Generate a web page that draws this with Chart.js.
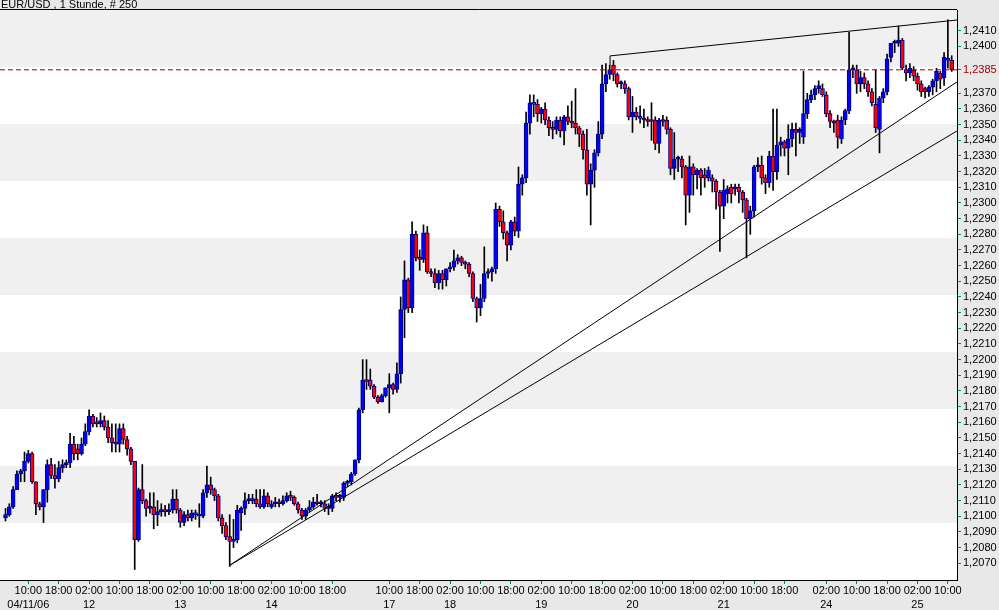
<!DOCTYPE html>
<html>
<head>
<meta charset="utf-8">
<title>EUR/USD 1 Stunde</title>
<script src="https://cdn.jsdelivr.net/npm/chart.js@4.4.1/dist/chart.umd.min.js"></script>
<style>
  html, body { margin: 0; padding: 0; background: #e8e8e8; }
  #wrap { width: 999px; height: 610px; }
  canvas { display: block; }
</style>
</head>
<body>
<div id="wrap"><canvas id="chart" width="999" height="610"></canvas></div>
<script>
// DATA (hourly candles)
const title = "EUR/USD , 1 Stunde, # 250";

const opens = [
  1.2099,1.2101,1.2106,1.2117,1.2127,1.2129,1.2135,1.2140,1.2122,1.2108,
  1.2106,1.2117,1.2133,1.2126,1.2124,1.2131,1.2133,1.2134,1.2146,1.2143,
  1.2140,1.2146,1.2154,1.2164,1.2160,1.2159,1.2161,1.2157,1.2150,1.2147,
  1.2146,1.2156,1.2149,1.2143,1.2135,1.2085,1.2117,1.2110,1.2105,1.2106,
  1.2101,1.2103,1.2104,1.2103,1.2104,1.2111,1.2104,1.2096,1.2101,1.2099,
  1.2102,1.2101,1.2100,1.2115,1.2120,1.2117,1.2113,1.2099,1.2094,1.2087,
  1.2084,1.2085,1.2102,1.2105,1.2110,1.2111,1.2111,1.2108,1.2106,1.2113,
  1.2106,1.2108,1.2109,1.2108,1.2110,1.2113,1.2112,1.2108,1.2104,1.2100,
  1.2104,1.2106,1.2109,1.2108,1.2108,1.2105,1.2105,1.2113,1.2112,1.2112,
  1.2121,1.2122,1.2127,1.2136,1.2168,1.2187,1.2187,1.2183,1.2176,1.2173,
  1.2177,1.2182,1.2184,1.2181,1.2191,1.2232,1.2251,1.2233,1.2280,1.2265,
  1.2264,1.2281,1.2256,1.2255,1.2249,1.2255,1.2251,1.2258,1.2259,1.2263,
  1.2265,1.2262,1.2261,1.2255,1.2239,1.2233,1.2239,1.2255,1.2256,1.2258,
  1.2296,1.2288,1.2281,1.2273,1.2288,1.2282,1.2312,1.2316,1.2351,1.2364,
  1.2363,1.2357,1.2360,1.2353,1.2348,1.2347,1.2353,1.2346,1.2355,1.2352,
  1.2351,1.2348,1.2344,1.2334,1.2312,1.2321,1.2332,1.2344,1.2376,1.2382,
  1.2388,1.2382,1.2376,1.2376,1.2373,1.2355,1.2358,1.2355,1.2354,1.2353,
  1.2353,1.2353,1.2338,1.2353,1.2353,1.2347,1.2322,1.2328,1.2328,1.2323,
  1.2305,1.2323,1.2318,1.2321,1.2318,1.2316,1.2316,1.2314,1.2307,1.2298,
  1.2306,1.2310,1.2309,1.2310,1.2307,1.2302,1.2290,1.2295,1.2323,1.2324,
  1.2316,1.2313,1.2330,1.2320,1.2337,1.2339,1.2335,1.2341,1.2347,1.2345,
  1.2342,1.2357,1.2366,1.2369,1.2373,1.2373,1.2369,1.2357,1.2352,1.2353,
  1.2341,1.2353,1.2359,1.2385,1.2385,1.2376,1.2380,1.2376,1.2371,1.2363,
  1.2347,1.2367,1.2371,1.2393,1.2402,1.2402,1.2404,1.2385,1.2383,1.2385,
  1.2381,1.2376,1.2373,1.2371,1.2374,1.2378,1.2383,1.2380,1.2392,1.2391
];

const highs = [
  1.2105,1.2108,1.2119,1.2129,1.2130,1.2141,1.2142,1.2141,1.2122,1.2109,
  1.2117,1.2136,1.2137,1.2133,1.2135,1.2136,1.2136,1.2153,1.2151,1.2146,
  1.2150,1.2159,1.2168,1.2165,1.2163,1.2166,1.2164,1.2161,1.2159,1.2159,
  1.2159,1.2159,1.2151,1.2144,1.2135,1.2118,1.2133,1.2111,1.2115,1.2115,
  1.2110,1.2108,1.2107,1.2108,1.2117,1.2117,1.2105,1.2103,1.2104,1.2104,
  1.2104,1.2108,1.2117,1.2132,1.2125,1.2118,1.2114,1.2101,1.2096,1.2101,
  1.2098,1.2107,1.2106,1.2115,1.2114,1.2114,1.2117,1.2117,1.2117,1.2115,
  1.2110,1.2112,1.2111,1.2113,1.2115,1.2116,1.2113,1.2109,1.2105,1.2105,
  1.2110,1.2112,1.2114,1.2110,1.2110,1.2108,1.2114,1.2115,1.2114,1.2122,
  1.2123,1.2128,1.2136,1.2169,1.2200,1.2200,1.2194,1.2184,1.2177,1.2178,
  1.2182,1.2191,1.2185,1.2198,1.2240,1.2263,1.2252,1.2288,1.2282,1.2270,
  1.2286,1.2285,1.2258,1.2258,1.2257,1.2257,1.2258,1.2262,1.2270,1.2267,
  1.2266,1.2263,1.2262,1.2256,1.2240,1.2248,1.2272,1.2258,1.2259,1.2300,
  1.2298,1.2295,1.2282,1.2289,1.2291,1.2323,1.2318,1.2358,1.2369,1.2369,
  1.2366,1.2361,1.2364,1.2355,1.2352,1.2355,1.2355,1.2356,1.2362,1.2365,
  1.2373,1.2349,1.2346,1.2347,1.2325,1.2334,1.2352,1.2388,1.2389,1.2388,
  1.2391,1.2383,1.2378,1.2378,1.2374,1.2368,1.2361,1.2362,1.2360,1.2355,
  1.2364,1.2355,1.2354,1.2356,1.2355,1.2348,1.2345,1.2330,1.2330,1.2324,
  1.2330,1.2325,1.2322,1.2322,1.2322,1.2323,1.2318,1.2315,1.2308,1.2315,
  1.2311,1.2312,1.2312,1.2312,1.2308,1.2303,1.2298,1.2324,1.2329,1.2330,
  1.2318,1.2333,1.2360,1.2360,1.2342,1.2340,1.2350,1.2351,1.2351,1.2348,
  1.2384,1.2370,1.2372,1.2375,1.2378,1.2376,1.2371,1.2359,1.2353,1.2356,
  1.2355,1.2360,1.2409,1.2388,1.2388,1.2384,1.2383,1.2378,1.2373,1.2385,
  1.2368,1.2373,1.2395,1.2402,1.2404,1.2413,1.2405,1.2388,1.2389,1.2387,
  1.2383,1.2378,1.2374,1.2375,1.2379,1.2386,1.2384,1.2396,1.2417,1.2394
];

const lows = [
  1.2097,1.2100,1.2105,1.2117,1.2122,1.2122,1.2134,1.2121,1.2101,1.2104,
  1.2096,1.2109,1.2124,1.2118,1.2122,1.2128,1.2131,1.2131,1.2136,1.2136,
  1.2139,1.2145,1.2152,1.2157,1.2157,1.2157,1.2155,1.2147,1.2141,1.2141,
  1.2141,1.2146,1.2139,1.2133,1.2066,1.2084,1.2108,1.2100,1.2102,1.2092,
  1.2094,1.2100,1.2100,1.2101,1.2102,1.2102,1.2093,1.2094,1.2097,1.2097,
  1.2098,1.2093,1.2099,1.2112,1.2114,1.2110,1.2097,1.2089,1.2085,1.2068,
  1.2080,1.2083,1.2091,1.2101,1.2108,1.2108,1.2106,1.2105,1.2105,1.2106,
  1.2105,1.2106,1.2106,1.2107,1.2109,1.2110,1.2107,1.2102,1.2098,1.2098,
  1.2103,1.2105,1.2107,1.2106,1.2103,1.2101,1.2103,1.2110,1.2109,1.2110,
  1.2119,1.2120,1.2126,1.2134,1.2166,1.2181,1.2181,1.2175,1.2172,1.2173,
  1.2176,1.2166,1.2178,1.2179,1.2185,1.2214,1.2230,1.2230,1.2263,1.2257,
  1.2262,1.2255,1.2253,1.2246,1.2245,1.2245,1.2247,1.2256,1.2257,1.2261,
  1.2260,1.2258,1.2253,1.2237,1.2224,1.2228,1.2237,1.2252,1.2250,1.2255,
  1.2285,1.2277,1.2263,1.2270,1.2279,1.2278,1.2305,1.2313,1.2344,1.2355,
  1.2352,1.2351,1.2350,1.2343,1.2341,1.2344,1.2342,1.2337,1.2350,1.2348,
  1.2344,1.2336,1.2328,1.2305,1.2286,1.2310,1.2330,1.2341,1.2371,1.2379,
  1.2378,1.2374,1.2373,1.2370,1.2353,1.2345,1.2353,1.2351,1.2348,1.2349,
  1.2340,1.2334,1.2332,1.2349,1.2344,1.2318,1.2315,1.2320,1.2316,1.2286,
  1.2294,1.2305,1.2309,1.2305,1.2310,1.2314,1.2307,1.2296,1.2269,1.2290,
  1.2300,1.2300,1.2305,1.2300,1.2294,1.2265,1.2280,1.2291,1.2320,1.2312,
  1.2306,1.2310,1.2308,1.2315,1.2330,1.2330,1.2318,1.2336,1.2330,1.2338,
  1.2338,1.2354,1.2364,1.2366,1.2370,1.2368,1.2355,1.2348,1.2345,1.2335,
  1.2338,1.2350,1.2357,1.2380,1.2370,1.2371,1.2373,1.2368,1.2362,1.2345,
  1.2332,1.2364,1.2369,1.2390,1.2396,1.2400,1.2385,1.2378,1.2380,1.2378,
  1.2372,1.2368,1.2367,1.2368,1.2369,1.2371,1.2373,1.2375,1.2386,1.2384
];

const closes = [
  1.2101,1.2106,1.2117,1.2127,1.2129,1.2135,1.2140,1.2122,1.2108,1.2106,
  1.2117,1.2133,1.2126,1.2124,1.2131,1.2133,1.2134,1.2146,1.2140,1.2140,
  1.2146,1.2154,1.2164,1.2159,1.2159,1.2161,1.2157,1.2150,1.2147,1.2146,
  1.2156,1.2149,1.2143,1.2135,1.2085,1.2117,1.2110,1.2105,1.2106,1.2101,
  1.2103,1.2104,1.2103,1.2104,1.2111,1.2104,1.2096,1.2101,1.2099,1.2102,
  1.2101,1.2100,1.2115,1.2120,1.2117,1.2113,1.2099,1.2094,1.2087,1.2084,
  1.2085,1.2104,1.2105,1.2110,1.2111,1.2110,1.2108,1.2106,1.2113,1.2108,
  1.2108,1.2109,1.2108,1.2110,1.2113,1.2112,1.2108,1.2104,1.2100,1.2104,
  1.2106,1.2109,1.2108,1.2109,1.2105,1.2106,1.2113,1.2112,1.2113,1.2121,
  1.2122,1.2127,1.2136,1.2168,1.2187,1.2186,1.2183,1.2176,1.2173,1.2177,
  1.2182,1.2184,1.2181,1.2191,1.2232,1.2251,1.2233,1.2280,1.2265,1.2264,
  1.2281,1.2256,1.2255,1.2249,1.2255,1.2251,1.2258,1.2259,1.2263,1.2265,
  1.2262,1.2261,1.2255,1.2239,1.2233,1.2239,1.2255,1.2256,1.2258,1.2296,
  1.2288,1.2281,1.2273,1.2288,1.2282,1.2312,1.2316,1.2351,1.2364,1.2363,
  1.2357,1.2360,1.2353,1.2348,1.2347,1.2353,1.2346,1.2355,1.2352,1.2351,
  1.2348,1.2344,1.2334,1.2312,1.2321,1.2332,1.2344,1.2376,1.2382,1.2385,
  1.2382,1.2376,1.2377,1.2373,1.2355,1.2358,1.2355,1.2354,1.2353,1.2352,
  1.2352,1.2338,1.2353,1.2352,1.2347,1.2322,1.2328,1.2329,1.2323,1.2305,
  1.2323,1.2318,1.2321,1.2316,1.2316,1.2321,1.2314,1.2307,1.2298,1.2308,
  1.2309,1.2306,1.2310,1.2307,1.2302,1.2290,1.2295,1.2323,1.2324,1.2316,
  1.2313,1.2330,1.2320,1.2337,1.2339,1.2335,1.2341,1.2347,1.2345,1.2347,
  1.2357,1.2366,1.2369,1.2373,1.2375,1.2369,1.2357,1.2352,1.2351,1.2342,
  1.2353,1.2359,1.2385,1.2385,1.2376,1.2380,1.2376,1.2371,1.2364,1.2348,
  1.2367,1.2371,1.2392,1.2402,1.2403,1.2404,1.2386,1.2383,1.2386,1.2381,
  1.2376,1.2371,1.2371,1.2374,1.2378,1.2384,1.2379,1.2393,1.2391,1.2385
];

const lastPrice = 1.2385;

// price scale ticks (1,2380 and 1,2390 give way to the last price)
const yTicks = [
  1.2070,1.2080,1.2090,1.2100,1.2110,1.2120,1.2130,1.2140,1.2150,1.2160,
  1.2170,1.2180,1.2190,1.2200,1.2210,1.2220,1.2230,1.2240,1.2250,1.2260,
  1.2270,1.2280,1.2290,1.2300,1.2310,1.2320,1.2330,1.2340,1.2350,1.2360,
  1.2370,1.2385,1.2400,1.2410
];

// time axis ticks: bar index, hour, day
const xTickBars = [6,14,22,30,38,46,54,62,70,78,86,101,109,117,125,133,141,149,157,165,173,181,189,197,205,216,224,232,240,248];
const xTimeLabels = ["10:00","18:00","02:00","10:00","18:00","02:00","10:00","18:00","02:00","10:00","18:00",
  "10:00","18:00","02:00","10:00","18:00","02:00","10:00","18:00","02:00","10:00","18:00","02:00","10:00","18:00",
  "02:00","10:00","18:00","02:00","10:00"];
const xDateLabels = ["04/11/06","","12","","","13","","","14","","","17","","18","","","19","","","20","","","21","","","24","","","25",""];

// trend lines drawn on the chart (bar index, price)
const resistLine = [{x: 159.1, y: 1.23881}, {x: 159.1, y: 1.23939}, {x: 250.4, y: 1.24168}];
const supportA = [{x: 58.9, y: 1.20685}, {x: 250.4, y: 1.23773}];
const supportB = [{x: 58.9, y: 1.20685}, {x: 250.4, y: 1.23460}];

// axis ranges
const xMin = -1.45, xMax = 250.4;
const yMin = 1.20593, yMax = 1.24232;

// BUILD DATASETS

let bodies = opens.map((o, i) => ({ x: i, y: [o, closes[i]] }));
let wicks = highs.map((h, i) => ({ x: i, y: [lows[i], h] }));

const UP = "#0000ff";
const DOWN = "#ff0000";
const FONT = { family: "'Liberation Sans', Arial, sans-serif", size: 11 };

// BACKGROUND, STRIPES AND TITLE

const backdrop = {
  id: "backdrop",
  beforeDraw(chart) {
    let ctx = chart.ctx;
    let a = chart.chartArea;
    ctx.save();
    ctx.fillStyle = "#e8e8e8";
    ctx.fillRect(0, 0, chart.width, chart.height);
    let h = (a.bottom - a.top) / 10;
    for (let k = 0; k < 10; k++) {
      ctx.fillStyle = k % 2 == 0 ? "#f0f0f0" : "#ffffff";
      ctx.fillRect(a.left, a.top + k * h, a.right - a.left, h);
    }
    ctx.strokeStyle = "#000";
    ctx.lineWidth = 1;
    ctx.beginPath();
    ctx.moveTo(a.left, a.top - 0.5);
    ctx.lineTo(a.right, a.top - 0.5);
    ctx.stroke();
    ctx.fillStyle = "#000";
    ctx.font = "11px 'Liberation Sans', Arial, sans-serif";
    ctx.textBaseline = "alphabetic";
    ctx.fillText(title, 1, 8);
    ctx.restore();
  },
};

// CHART

const chart = new Chart(document.getElementById("chart"), {
  type: "bar",
  data: {
    datasets: [
      {
        type: "line",
        data: resistLine,
        borderColor: "#000",
        borderWidth: 1,
        pointRadius: 0,
      },
      {
        type: "line",
        data: supportA,
        borderColor: "#000",
        borderWidth: 1,
        pointRadius: 0,
      },
      {
        type: "line",
        data: supportB,
        borderColor: "#000",
        borderWidth: 1,
        pointRadius: 0,
      },
      {
        type: "line",
        data: [{ x: xMin, y: lastPrice }, { x: xMax, y: lastPrice }],
        borderColor: "#a00000",
        borderWidth: 1,
        borderDash: [5, 3],
        pointRadius: 0,
      },
      {
        type: "bar",
        data: bodies,
        grouped: false,
        barThickness: 4,
        minBarLength: 2,
        borderWidth: 1,
        borderSkipped: false,
        borderColor: "#000080",
        backgroundColor: (c) => {
          let v = c.raw;
          if (!v) return UP;
          return v.y[1] >= v.y[0] ? UP : DOWN;
        },
      },
      {
        type: "bar",
        data: wicks,
        grouped: false,
        barThickness: 1,
        borderWidth: 0,
        backgroundColor: "#000",
      },
    ],
  },
  plugins: [backdrop],
  options: {
    responsive: false,
    animation: false,
    events: [],
    layout: { padding: { top: 10, left: 0, right: 0, bottom: 0 } },
    plugins: {
      legend: { display: false },
      tooltip: { enabled: false },
      title: { display: false },
    },
    scales: {
      x: {
        type: "linear",
        min: xMin,
        max: xMax,
        offset: false,
        afterBuildTicks: (scale) => {
          scale.ticks = xTickBars.map((v) => ({ value: v }));
        },
        afterFit: (scale) => {
          scale.height = 30;
        },
        grid: {
          offset: false,
          drawOnChartArea: false,
          drawTicks: true,
          tickLength: 4,
          tickColor: "#008080",
        },
        border: { display: true, color: "#000", width: 1 },
        ticks: {
          autoSkip: false,
          maxRotation: 0,
          padding: 0,
          color: "#000",
          font: { family: FONT.family, size: 11, lineHeight: 1.25 },
          callback: (value) => {
            let k = xTickBars.indexOf(value);
            if (k < 0) return "";
            return [xTimeLabels[k], xDateLabels[k]];
          },
        },
      },
      y: {
        type: "linear",
        position: "right",
        min: yMin,
        max: yMax,
        afterBuildTicks: (scale) => {
          scale.ticks = yTicks.map((v) => ({ value: v }));
        },
        afterFit: (scale) => {
          scale.width = 42;
        },
        grid: {
          drawOnChartArea: false,
          drawTicks: true,
          tickLength: 4,
          tickColor: "#008080",
        },
        border: { display: true, color: "#000", width: 1 },
        ticks: {
          padding: 2,
          font: FONT,
          color: (c) => (Math.abs(c.tick.value - lastPrice) < 1e-7 ? "#a00000" : "#000"),
          callback: (value) => value.toFixed(4).replace(".", ","),
        },
      },
    },
  },
});
</script>
</body>
</html>
